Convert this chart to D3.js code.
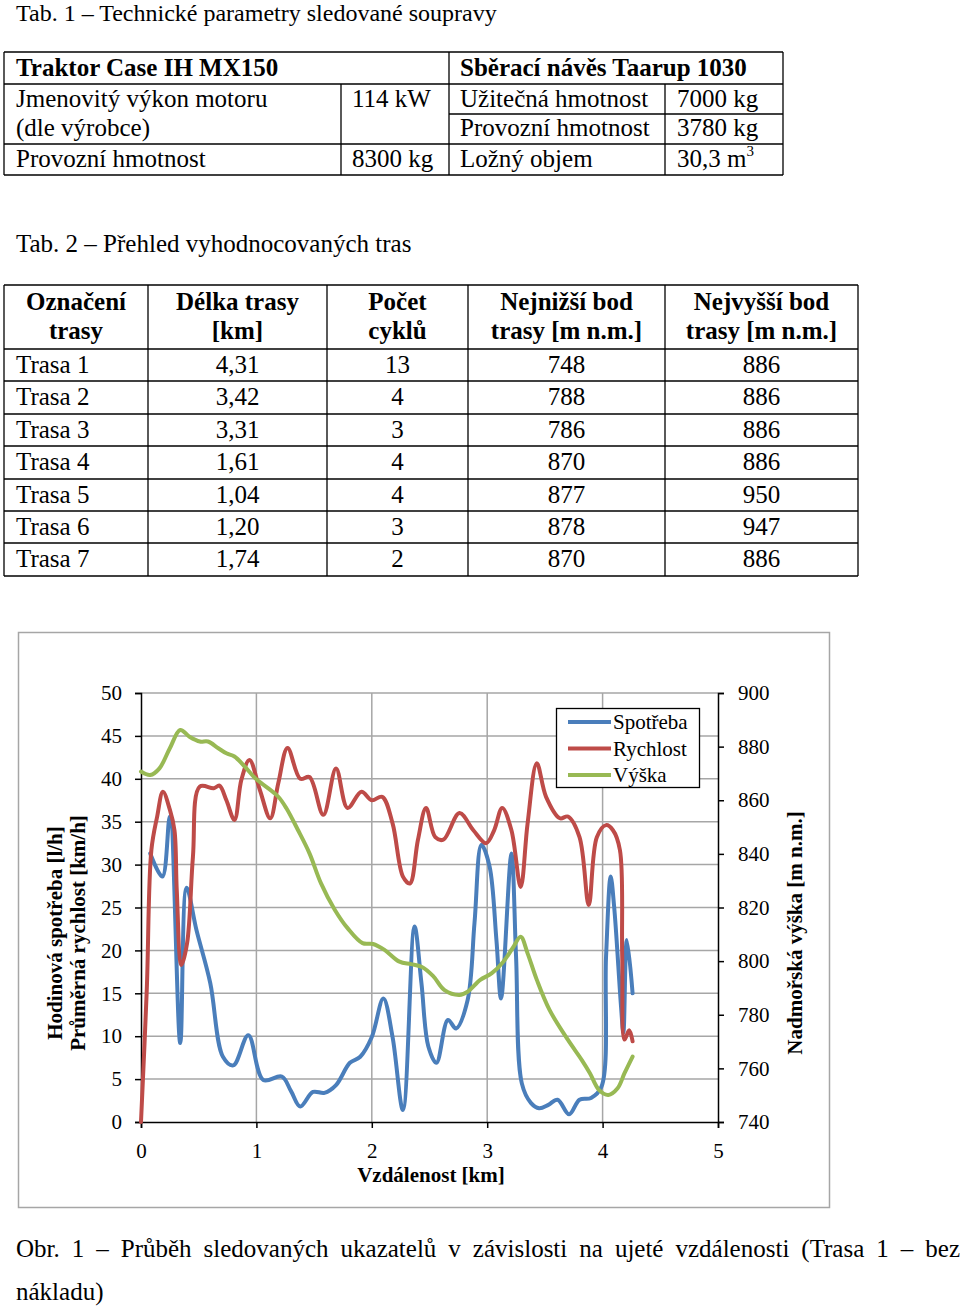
<!DOCTYPE html>
<html><head><meta charset="utf-8">
<script src="https://cdn.jsdelivr.net/npm/d3@7"></script>
<style>
html,body{margin:0;padding:0;background:#fff;}
text{font-family:"Liberation Serif","Times New Roman",serif;fill:#000;}
</style></head>
<body><svg id="page" width="960" height="1308"></svg>
<script>
// ---------- DATA ----------
const tab1Title = "Tab. 1 – Technické parametry sledované soupravy";
const tab2Title = "Tab. 2 – Přehled vyhodnocovaných tras";
const tab2Header1 = ["Označení", "Délka trasy", "Počet", "Nejnižší bod", "Nejvyšší bod"];
const tab2Header2 = ["trasy", "[km]", "cyklů", "trasy [m n.m.]", "trasy [m n.m.]"];
const routes = ["Trasa 1","Trasa 2","Trasa 3","Trasa 4","Trasa 5","Trasa 6","Trasa 7"];
const routeLength = ["4,31","3,42","3,31","1,61","1,04","1,20","1,74"];
const routeCycles = [13,4,3,4,4,3,2];
const routeLow = [748,788,786,870,877,878,870];
const routeHigh = [886,886,886,886,950,947,886];

const xTicks = [0,1,2,3,4,5];
const yLeftTicks = [0,5,10,15,20,25,30,35,40,45,50];
const yRightTicks = [740,760,780,800,820,840,860,880,900];
const seriesNames = ["Spotřeba","Rychlost","Výška"];

const distSpotreba = [0.08,0.185,0.25,0.34,0.395,0.48,0.6,0.71,0.80,0.93,1.06,1.22,1.30,1.38,1.49,1.59,1.69,1.81,1.90,2.0,2.10,2.18,2.27,2.37,2.43,2.49,2.56,2.66,2.73,2.83,2.89,2.95,3.02,3.08,3.12,3.21,3.25,3.30,3.38,3.45,3.53,3.61,3.71,3.80,3.90,3.99,4.03,4.07,4.10,4.16,4.18,4.21,4.26];
const spotreba = [31.3,28.6,35.6,9.2,27.3,22.4,16.2,7.6,6.6,10.1,4.9,5.3,3.6,1.8,3.5,3.4,4.3,6.9,7.6,9.9,14.4,9.9,1.4,22.8,16.2,8.8,6.9,11.9,10.9,14.2,23.2,32.3,29.8,21.2,14.4,31.3,19.3,4.5,2.2,1.6,2.0,2.6,0.9,2.6,2.8,4.1,19.3,28.6,25.1,13.4,10.4,21.2,15.0];

const distRychlost = [0,0.05,0.09,0.14,0.19,0.25,0.29,0.31,0.35,0.40,0.45,0.51,0.63,0.68,0.74,0.81,0.87,0.94,1.03,1.12,1.19,1.27,1.38,1.46,1.58,1.69,1.79,1.91,2.0,2.09,2.18,2.27,2.33,2.40,2.47,2.55,2.62,2.76,2.88,2.99,3.06,3.13,3.21,3.29,3.35,3.43,3.51,3.63,3.70,3.80,3.88,3.95,4.03,4.09,4.15,4.17,4.19,4.23,4.26];
const rychlost = [0,15.4,31.7,35.6,38.5,36.4,34.0,27.0,18.3,20.9,30.9,39.1,38.9,39.2,37.5,35.2,39.9,42.2,38.7,35.4,39.5,43.6,40.0,40.2,35.8,41.2,36.6,38.5,37.5,37.9,34.8,28.6,27.8,32.9,36.6,33.2,32.9,36.0,34.0,32.5,34.0,36.6,34.0,27.4,34.8,41.8,37.9,35.4,35.6,33.2,25.3,33.2,34.6,34.0,31.7,19.3,9.6,10.7,9.4];

const distVyska = [0,0.08,0.16,0.25,0.34,0.42,0.51,0.58,0.67,0.74,0.81,0.90,0.99,1.10,1.19,1.26,1.36,1.46,1.56,1.68,1.79,1.92,2.01,2.11,2.24,2.34,2.43,2.53,2.63,2.76,2.83,2.94,3.04,3.14,3.22,3.29,3.35,3.43,3.54,3.70,3.82,3.89,3.97,4.05,4.13,4.19,4.26];
const vyska = [870.7,869.4,871.9,879.4,886.2,883.7,881.9,881.9,879.4,877.5,876.3,872.5,868.2,864.5,861.3,857.0,848.9,840.2,829.0,819.1,812.3,806.7,806.4,804.2,799.8,798.9,797.9,794.5,789.2,787.4,788.6,793.0,795.5,799.8,804.8,809.1,802.9,793.0,781.8,770.6,763.1,758.2,751.9,750.1,752.6,758.2,764.4];

const captionLine1 = "Obr. 1 – Průběh sledovaných ukazatelů v závislosti na ujeté vzdálenosti (Trasa 1 – bez";
const captionLine2 = "nákladu)";

// ---------- DRAW ----------
const svg = d3.select("#page");
svg.append("rect").attr("width",960).attr("height",1308).attr("fill","#fff");

const FS = 25;
function txt(g, x, y, s, opts={}) {
  const t = g.append("text").attr("x",x).attr("y",y).text(s)
    .style("font-size",(opts.size||FS)+"px");
  if (opts.bold) t.style("font-weight","bold");
  if (opts.anchor) t.attr("text-anchor",opts.anchor);
  return t;
}
function line(g,x1,y1,x2,y2,c="#000",w=1.3){
  g.append("line").attr("x1",x1).attr("y1",y1).attr("x2",x2).attr("y2",y2)
   .attr("stroke",c).attr("stroke-width",w);
}

// Table 1
const t1 = svg.append("g");
txt(t1,16,21,tab1Title,{size:24});
const T1 = {l:4,r:783,top:52,h1:84,mid:114,r2:144,bot:175,c1:341,c2:449,c3:665};
line(t1,T1.l,T1.top,T1.r,T1.top); line(t1,T1.l,T1.bot,T1.r,T1.bot);
line(t1,T1.l,T1.h1,T1.r,T1.h1); line(t1,T1.l,T1.r2,T1.r,T1.r2);
line(t1,T1.c2,T1.mid,T1.r,T1.mid);
line(t1,T1.l,T1.top,T1.l,T1.bot); line(t1,T1.r,T1.top,T1.r,T1.bot);
line(t1,T1.c2,T1.top,T1.c2,T1.bot);
line(t1,T1.c1,T1.h1,T1.c1,T1.bot); line(t1,T1.c3,T1.h1,T1.c3,T1.bot);
txt(t1,16,76,"Traktor Case IH MX150",{bold:true});
txt(t1,460,76,"Sběrací návěs Taarup 1030",{bold:true});
txt(t1,16,107,"Jmenovitý výkon motoru");
txt(t1,16,136,"(dle výrobce)");
txt(t1,352,107,"114 kW");
txt(t1,460,107,"Užitečná hmotnost");
txt(t1,677,107,"7000 kg");
txt(t1,460,136,"Provozní hmotnost");
txt(t1,677,136,"3780 kg");
txt(t1,16,167,"Provozní hmotnost");
txt(t1,352,167,"8300 kg");
txt(t1,460,167,"Ložný objem");
const vol = txt(t1,677,167,"30,3 m");
vol.append("tspan").attr("dy",-11).style("font-size","15px").text("3");

// Table 2
const t2 = svg.append("g");
txt(t2,16,252,tab2Title);
const colX = [4,148,327,468,665,858];
const rowY = [285,349,381,414,446,479,511,543,576];
rowY.forEach(y=>line(t2,colX[0],y,colX[5],y));
colX.forEach(x=>line(t2,x,rowY[0],x,rowY[rowY.length-1]));
tab2Header1.forEach((h,i)=>{
  const cx=(colX[i]+colX[i+1])/2;
  txt(t2,cx,310,h,{bold:true,anchor:"middle"});
  txt(t2,cx,339,tab2Header2[i],{bold:true,anchor:"middle"});
});
routes.forEach((r,i)=>{
  const y = rowY[i+1]+24;
  txt(t2,16,y,r);
  const vals=[routeLength[i],routeCycles[i],routeLow[i],routeHigh[i]];
  vals.forEach((v,j)=>{
    const cx=(colX[j+1]+colX[j+2])/2;
    txt(t2,cx,y,String(v),{anchor:"middle"});
  });
});

// Chart
const chart = svg.append("g");
chart.append("rect").attr("x",18.5).attr("y",632.5).attr("width",811).attr("height",575)
  .attr("fill","#fff").attr("stroke","#a6a6a6").attr("stroke-width",1.5);

const P = {l:141,r:718,t:693,b:1122};
const x = d3.scaleLinear().domain([0,5]).range([P.l,P.r]);
const yL = d3.scaleLinear().domain([0,50]).range([P.b,P.t]);
const yR = d3.scaleLinear().domain([740,900]).range([P.b,P.t]);

// gridlines
const grid = chart.append("g");
yLeftTicks.forEach(v=>{ if(v>0) line(grid,P.l,yL(v),P.r,yL(v),"#a6a6a6",1.5); });
xTicks.forEach(v=>{ if(v>0 && v<5) line(grid,x(v),P.t,x(v),P.b,"#a6a6a6",1.5); });

const FC = 21;
const fmt = d3.format("d");
const axL = chart.append("g").attr("transform",`translate(${P.l},0)`)
  .call(d3.axisLeft(yL).tickValues(yLeftTicks).tickFormat(fmt).tickSize(6).tickPadding(13));
const axR = chart.append("g").attr("transform",`translate(${P.r},0)`)
  .call(d3.axisRight(yR).tickValues(yRightTicks).tickFormat(fmt).tickSize(6).tickPadding(14));
const axB = chart.append("g").attr("transform",`translate(0,${P.b})`)
  .call(d3.axisBottom(x).tickValues(xTicks).tickFormat(fmt).tickSize(6).tickPadding(15));
[axL,axR,axB].forEach(a=>{
  a.select(".domain").attr("stroke","#000").attr("stroke-width",1.5);
  a.selectAll(".tick line").attr("stroke","#000").attr("stroke-width",1.5);
  a.selectAll(".tick text").style("font-family",'"Liberation Serif",serif').style("font-size",FC+"px").attr("fill","#000");
});

txt(chart,431,1182,"Vzdálenost [km]",{bold:true,size:FC,anchor:"middle"});
chart.append("text").attr("transform","translate(62,933) rotate(-90)").attr("text-anchor","middle")
  .style("font-size",FC+"px").style("font-weight","bold").text("Hodinová spotřeba [l/h]");
chart.append("text").attr("transform","translate(85,933) rotate(-90)").attr("text-anchor","middle")
  .style("font-size",FC+"px").style("font-weight","bold").text("Průměrná rychlost [km/h]");
chart.append("text").attr("transform","translate(802,933) rotate(-90)").attr("text-anchor","middle")
  .style("font-size",FC+"px").style("font-weight","bold").text("Nadmořská výška [m n.m.]");

const colors = ["#4a7ebb","#be4b48","#98b954"];
const curve = d3.curveCatmullRom.alpha(0.5);
const series = [
  {d:distSpotreba.map((k,i)=>[k,spotreba[i]]), y:yL},
  {d:distRychlost.map((k,i)=>[k,rychlost[i]]), y:yL},
  {d:distVyska.map((k,i)=>[k,vyska[i]]), y:yR}
];
[0,1,2].forEach(i=>{
  const s=series[i];
  chart.append("path").datum(s.d)
    .attr("d",d3.line().x(p=>x(p[0])).y(p=>s.y(p[1])).curve(curve))
    .attr("fill","none").attr("stroke",colors[i]).attr("stroke-width",4)
    .attr("stroke-linejoin","round").attr("stroke-linecap","round");
});

// legend
const lg = chart.append("g");
lg.append("rect").attr("x",556.5).attr("y",708.5).attr("width",143).attr("height",79)
  .attr("fill","#fff").attr("stroke","#000").attr("stroke-width",1.3);
seriesNames.forEach((n,i)=>{
  const yy = 722 + i*26.5;
  line(lg,568,yy,611,yy,colors[i],4);
  txt(lg,613,yy+7,n,{size:FC});
});

// caption (justified line 1)
const cap = svg.append("g");
const words = captionLine1.split(" ");
const tmp = words.map(w=>txt(cap,0,1257,w));
const widths = tmp.map(t=>t.node().getComputedTextLength());
const total = d3.sum(widths);
const gap = (960-16-total)/(words.length-1);
let cx0 = 16;
tmp.forEach((t,i)=>{ t.attr("x",cx0); cx0 += widths[i]+gap; });
txt(cap,16,1300,captionLine2);
</script>
</body></html>
